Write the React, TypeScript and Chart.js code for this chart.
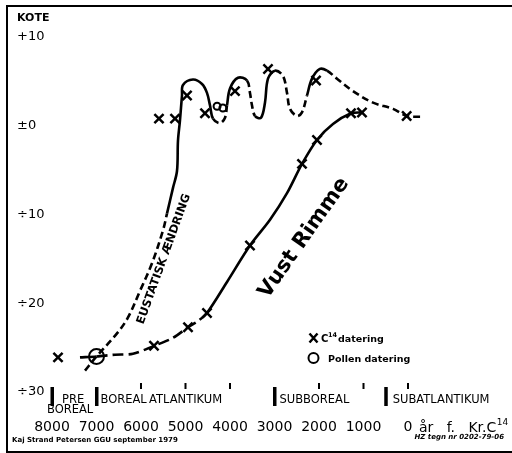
import React, { useEffect, useRef } from 'react';
import { Chart, registerables } from 'chart.js';

Chart.register(...registerables);

// ---- axis ticks ----
const yearTicks = [8000, 7000, 6000, 5000, 4000, 3000, 2000, 1000, 0];
const levelTicks = [10, 0, -10, -20, -30];
const levelTickLabels = ['+10', '±0', '÷10', '÷20', '÷30'];

// ---- eustatic sea-level change (years BC, C14) ----
const eustaticYears = [7258, 7000, 6539, 6292, 6022, 5753, 5506, 5416, 5281, 5191, 5169, 5124, 5079, 5056, 4832, 4629, 4517, 4450, 4382, 4225, 4112, 4067, 4000, 3820, 3618, 3551, 3506, 3438, 3303, 3214, 3146, 2989, 2809, 2719, 2652, 2494, 2382, 2270, 2157, 1978, 1820, 1596, 1236, 787, 337, 22, -337];
const eustaticLevels = [-27.6, -26.0, -23.4, -21.6, -18.6, -15.5, -11.8, -9.9, -7.0, -5.1, -1.7, 0.6, 3.4, 4.6, 5.2, 4.7, 3.7, 2.3, 0.8, 0.3, 0.9, 2.3, 4.2, 5.4, 5.1, 3.7, 2.3, 1.1, 0.9, 2.6, 5.3, 6.2, 5.6, 3.7, 1.9, 1.1, 1.5, 3.4, 5.3, 6.4, 6.2, 5.3, 3.9, 2.6, 1.9, 1.1, 1.0];

// ---- Vust Rimme curve ----
const vustRimmeYears = [7371, 7000, 6584, 6180, 5708, 5281, 4944, 4719, 4517, 4067, 3551, 3101, 2719, 2382, 2045, 1686, 1281, 1034];
const vustRimmeLevels = [-26.1, -26.0, -25.8, -25.7, -24.8, -23.9, -22.7, -22.0, -21.1, -17.6, -13.5, -10.6, -7.6, -4.3, -1.6, 0.2, 1.4, 1.5];

// ---- C14 datings (X) ----
const c14Years = [7865, 5708, 4944, 4517, 3551, 2382, 2045, 1281, 1034, 30, 5596, 5236, 4966, 4562, 3888, 3146, 2067];
const c14Levels = [-26.1, -24.8, -22.7, -21.1, -13.5, -4.3, -1.6, 1.4, 1.5, 1.1, 0.8, 0.8, 3.4, 1.4, 3.9, 6.4, 5.1];

// ---- pollen datings (O) ----
const pollenYears = [7000, 4290, 4160];
const pollenLevels = [-26.0, 2.2, 2.0];

// ---- pollen zones ----
const periodBoundaryYears = [8000, 7000, 3000, 500];
const periodMinorYears = [6000, 5000, 4000, 2000, 1000, 0];
const periodNames = ['PRE', 'BOREAL', 'ATLANTIKUM', 'SUBBOREAL', 'SUBATLANTIKUM'];
const periodLabelYears = [8000, 7000, 6000, 3000, 500];

// styling: which segments are dashed
const eustaticDashedSegments = [0, 1, 2, 3, 4, 5, 6, 18, 19, 20, 24, 25, 26, 31, 32, 33, 34, 35, 36, 40, 41, 42, 43, 44, 45];
const vustDashedSegments = [1, 2, 3, 4, 5, 6, 7];

const zip = (xs: number[], ys: number[]) => xs.map((x, i) => ({ x, y: ys[i] }));

const FONT = '"DejaVu Sans", sans-serif';

const overlayPlugin = {
  id: 'overlay',
  afterDraw(chart: any) {
    const { ctx } = chart;
    const x = chart.scales.x;
    const y = chart.scales.y;
    ctx.save();
    ctx.fillStyle = '#000';
    ctx.strokeStyle = '#000';

    // KOTE
    ctx.font = `bold 11px ${FONT}`;
    ctx.textAlign = 'left';
    ctx.textBaseline = 'middle';
    ctx.fillText('KOTE', 17, y.getPixelForValue(10) - 19);

    // period boundaries
    periodBoundaryYears.forEach((yr) => {
      const px = x.getPixelForValue(yr);
      ctx.fillRect(px - 1.5, 387, 3.5, 19);
    });
    periodMinorYears.forEach((yr) => {
      const px = x.getPixelForValue(yr);
      ctx.fillRect(px - 1, 383, 2, 6);
    });
    // period names
    ctx.font = `11.5px ${FONT}`;
    ctx.textBaseline = 'alphabetic';
    const offsets = [10, 4, 8, 5, 7];
    periodNames.forEach((name, i) => {
      const px = x.getPixelForValue(periodLabelYears[i]) + offsets[i];
      ctx.fillText(name, px, 403);
    });
    ctx.fillText('BOREAL', x.getPixelForValue(8000) - 5, 413);

    // axis unit after "0"
    ctx.font = `14px ${FONT}`;
    const unit = 'år   f.   Kr.C';
    const ux = x.getPixelForValue(0) + 11;
    ctx.fillText(unit, ux, 432);
    const uw = ctx.measureText(unit).width;
    ctx.font = `9px ${FONT}`;
    ctx.fillText('14', ux + uw + 0.5, 425);

    // legend
    ctx.lineWidth = 2.5;
    ctx.beginPath();
    ctx.moveTo(309.5, 333.5); ctx.lineTo(317.5, 342.5);
    ctx.moveTo(317.5, 333.5); ctx.lineTo(309.5, 342.5);
    ctx.stroke();
    ctx.font = `bold 10px ${FONT}`;
    ctx.fillText('C', 321, 342);
    ctx.font = `bold 6.5px ${FONT}`;
    ctx.fillText('14', 328, 337);
    ctx.font = `bold 9.5px ${FONT}`;
    ctx.fillText('datering', 338, 342);
    ctx.lineWidth = 2;
    ctx.beginPath();
    ctx.arc(313.5, 358, 5, 0, Math.PI * 2);
    ctx.stroke();
    ctx.fillText('Pollen datering', 328, 362);

    // curve labels
    ctx.save();
    ctx.translate(304, 238);
    ctx.rotate((-55 * Math.PI) / 180);
    ctx.font = `bold 21px ${FONT}`;
    ctx.textAlign = 'center';
    ctx.textBaseline = 'middle';
    ctx.fillText('Vust Rimme', 0, 0);
    ctx.restore();

    ctx.save();
    ctx.translate(164, 259);
    ctx.rotate((-70 * Math.PI) / 180);
    ctx.font = `bold 11.5px ${FONT}`;
    ctx.textAlign = 'center';
    ctx.textBaseline = 'middle';
    ctx.fillText('EUSTATISK ÆNDRING', 0, 0);
    ctx.restore();

    // footer
    ctx.font = `bold 7px ${FONT}`;
    ctx.textAlign = 'left';
    ctx.fillText('Kaj Strand Petersen GGU september 1979', 12, 442);
    ctx.font = `italic bold 7px ${FONT}`;
    ctx.textAlign = 'right';
    ctx.fillText('HZ tegn nr 0202-79-06', 504, 439);

    ctx.restore();
  },
};

export default function App() {
  const canvasRef = useRef<HTMLCanvasElement | null>(null);

  useEffect(() => {
    if (!canvasRef.current) return;
    const chart = new Chart(canvasRef.current, {
      type: 'scatter',
      data: {
        datasets: [
          {
            label: 'Eustatisk ændring',
            data: zip(eustaticYears, eustaticLevels),
            showLine: true,
            borderColor: '#000',
            borderWidth: 2.6,
            tension: 0.35,
            pointRadius: 0,
            segment: {
              borderDash: (ctx: any) => (eustaticDashedSegments.includes(ctx.p0DataIndex) ? [7, 4] : undefined),
            },
          },
          {
            label: 'Vust Rimme',
            data: zip(vustRimmeYears, vustRimmeLevels),
            showLine: true,
            borderColor: '#000',
            borderWidth: 2.6,
            tension: 0.3,
            pointRadius: 0,
            segment: {
              borderDash: (ctx: any) => (vustDashedSegments.includes(ctx.p0DataIndex) ? [11, 5] : undefined),
            },
          },
          {
            label: 'C14 datering',
            data: zip(c14Years, c14Levels),
            showLine: false,
            pointStyle: 'crossRot',
            pointRadius: 6.5,
            borderColor: '#000',
            pointBorderWidth: 2.5,
          },
          {
            label: 'Pollen datering',
            data: zip(pollenYears, pollenLevels),
            showLine: false,
            pointStyle: 'circle',
            pointRadius: (ctx: any) => (ctx.dataIndex === 0 ? 7.5 : 3.5),
            borderColor: '#000',
            backgroundColor: 'rgba(0,0,0,0)',
            pointBorderWidth: 2,
          },
        ],
      },
      options: {
        animation: false,
        responsive: false,
        devicePixelRatio: 1,
        layout: { autoPadding: false, padding: { left: 0, right: 0, top: 6, bottom: 0 } },
        plugins: { legend: { display: false }, tooltip: { enabled: false } },
        scales: {
          x: {
            type: 'linear',
            reverse: true,
            min: -2337,
            max: 9011,
            grid: { display: false, drawTicks: false },
            border: { display: false },
            afterBuildTicks: (s: any) => {
              s.ticks = yearTicks.map((v) => ({ value: v }));
            },
            afterFit: (s: any) => {
              s.height = 43;
              s.paddingLeft = 0;
              s.paddingRight = 0;
            },
            ticks: {
              autoSkip: false,
              maxRotation: 0,
              padding: 9,
              color: '#000',
              font: { family: 'DejaVu Sans', size: 14 },
              callback: (v: any) => String(v),
            },
          },
          y: {
            type: 'linear',
            min: -32.03,
            max: 13.49,
            grid: { display: false, drawTicks: false },
            border: { display: false },
            afterBuildTicks: (s: any) => {
              s.ticks = levelTicks.map((v) => ({ value: v }));
            },
            afterFit: (s: any) => {
              s.width = 7;
              s.paddingTop = 0;
              s.paddingBottom = 0;
            },
            ticks: {
              mirror: true,
              padding: 10,
              color: '#000',
              font: { family: 'DejaVu Sans', size: 13 },
              callback: (v: any) => levelTickLabels[levelTicks.indexOf(Number(v))],
            },
          },
        },
      },
      plugins: [overlayPlugin],
    });
    return () => chart.destroy();
  }, []);

  return (
    <div style={{ position: 'fixed', left: 0, top: 0, width: 512, height: 453, overflow: 'hidden', background: '#fff' }}>
      <div
        style={{
          position: 'absolute',
          left: 6,
          top: 5,
          width: 520,
          height: 444,
          borderLeft: '2px solid #000',
          borderTop: '2px solid #000',
          borderBottom: '2px solid #000',
        }}
      />
      <canvas ref={canvasRef} width={512} height={453} style={{ position: 'absolute', left: 0, top: 0 }} />
    </div>
  );
}
